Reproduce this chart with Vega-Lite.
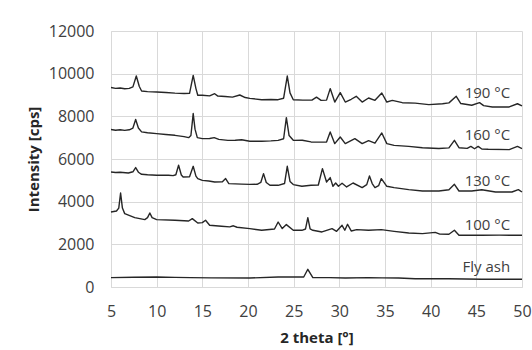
{
  "$schema": "https://vega.github.io/schema/vega-lite/v6.json",
  "width": 411,
  "height": 256,
  "autosize": "none",
  "padding": {"left": 111, "top": 31, "right": 10, "bottom": 63},
  "background": "white",
  "config": {
    "view": {"stroke": null},
    "font": "Open Sans",
    "axis": {"gridColor": "#d9d9d9", "gridWidth": 1, "domainColor": "#d9d9d9", "ticks": false, "labelFlush": false, "labelFont": "Open Sans", "labelFontSize": 16, "labelColor": "#404040", "titleFont": "Open Sans", "titleFontSize": 15, "titleFontWeight": "bold", "titleColor": "#262626"}
  },
  "datasets": {
    "lines": [
      {"s": "190", "x": 5.0, "y": 9350}, {"s": "190", "x": 5.5, "y": 9310}, {"s": "190", "x": 6.0, "y": 9330}, {"s": "190", "x": 6.5, "y": 9290}, {"s": "190", "x": 7.0, "y": 9310}, {"s": "190", "x": 7.4, "y": 9380}, {"s": "190", "x": 7.77, "y": 9890}, {"s": "190", "x": 8.1, "y": 9400}, {"s": "190", "x": 8.35, "y": 9190}, {"s": "190", "x": 9.0, "y": 9160}, {"s": "190", "x": 10.0, "y": 9140}, {"s": "190", "x": 11.0, "y": 9120}, {"s": "190", "x": 12.0, "y": 9090}, {"s": "190", "x": 13.0, "y": 9070}, {"s": "190", "x": 13.6, "y": 9080}, {"s": "190", "x": 14.0, "y": 9920}, {"s": "190", "x": 14.3, "y": 9300}, {"s": "190", "x": 14.5, "y": 8990}, {"s": "190", "x": 15.0, "y": 8985}, {"s": "190", "x": 15.8, "y": 8960}, {"s": "190", "x": 16.35, "y": 9060}, {"s": "190", "x": 16.7, "y": 8950}, {"s": "190", "x": 17.5, "y": 8930}, {"s": "190", "x": 18.3, "y": 8900}, {"s": "190", "x": 19.1, "y": 9000}, {"s": "190", "x": 19.7, "y": 8880}, {"s": "190", "x": 20.2, "y": 8840}, {"s": "190", "x": 21.5, "y": 8780}, {"s": "190", "x": 22.5, "y": 8790}, {"s": "190", "x": 23.3, "y": 8780}, {"s": "190", "x": 23.9, "y": 8850}, {"s": "190", "x": 24.3, "y": 9890}, {"s": "190", "x": 24.6, "y": 9100}, {"s": "190", "x": 24.96, "y": 8780}, {"s": "190", "x": 26.0, "y": 8760}, {"s": "190", "x": 27.0, "y": 8760}, {"s": "190", "x": 27.5, "y": 8900}, {"s": "190", "x": 28.0, "y": 8750}, {"s": "190", "x": 28.6, "y": 8760}, {"s": "190", "x": 29.0, "y": 9300}, {"s": "190", "x": 29.5, "y": 8670}, {"s": "190", "x": 30.1, "y": 9110}, {"s": "190", "x": 30.65, "y": 8670}, {"s": "190", "x": 31.3, "y": 8800}, {"s": "190", "x": 31.85, "y": 8940}, {"s": "190", "x": 32.5, "y": 8670}, {"s": "190", "x": 33.2, "y": 8860}, {"s": "190", "x": 33.9, "y": 8750}, {"s": "190", "x": 34.65, "y": 9095}, {"s": "190", "x": 35.2, "y": 8670}, {"s": "190", "x": 35.8, "y": 8750}, {"s": "190", "x": 36.9, "y": 8640}, {"s": "190", "x": 38.3, "y": 8620}, {"s": "190", "x": 39.8, "y": 8550}, {"s": "190", "x": 41.3, "y": 8590}, {"s": "190", "x": 42.0, "y": 8630}, {"s": "190", "x": 42.8, "y": 8940}, {"s": "190", "x": 43.3, "y": 8600}, {"s": "190", "x": 44.5, "y": 8520}, {"s": "190", "x": 45.35, "y": 8640}, {"s": "190", "x": 45.8, "y": 8500}, {"s": "190", "x": 46.75, "y": 8440}, {"s": "190", "x": 48.6, "y": 8440}, {"s": "190", "x": 49.5, "y": 8590}, {"s": "190", "x": 50.0, "y": 8490},

      {"s": "160", "x": 5.0, "y": 7380}, {"s": "160", "x": 5.5, "y": 7350}, {"s": "160", "x": 6.0, "y": 7370}, {"s": "160", "x": 6.5, "y": 7340}, {"s": "160", "x": 7.0, "y": 7370}, {"s": "160", "x": 7.4, "y": 7450}, {"s": "160", "x": 7.7, "y": 7850}, {"s": "160", "x": 8.0, "y": 7450}, {"s": "160", "x": 8.35, "y": 7270}, {"s": "160", "x": 9.0, "y": 7230}, {"s": "160", "x": 10.0, "y": 7190}, {"s": "160", "x": 11.0, "y": 7150}, {"s": "160", "x": 12.0, "y": 7110}, {"s": "160", "x": 13.0, "y": 7050}, {"s": "160", "x": 13.5, "y": 7000}, {"s": "160", "x": 13.75, "y": 7100}, {"s": "160", "x": 14.0, "y": 8130}, {"s": "160", "x": 14.2, "y": 7400}, {"s": "160", "x": 14.45, "y": 7000}, {"s": "160", "x": 15.0, "y": 6955}, {"s": "160", "x": 15.8, "y": 6960}, {"s": "160", "x": 16.3, "y": 7000}, {"s": "160", "x": 16.8, "y": 6920}, {"s": "160", "x": 17.8, "y": 6875}, {"s": "160", "x": 18.6, "y": 6880}, {"s": "160", "x": 19.3, "y": 6900}, {"s": "160", "x": 20.2, "y": 6830}, {"s": "160", "x": 21.5, "y": 6830}, {"s": "160", "x": 22.5, "y": 6850}, {"s": "160", "x": 23.3, "y": 6875}, {"s": "160", "x": 23.9, "y": 6950}, {"s": "160", "x": 24.2, "y": 7940}, {"s": "160", "x": 24.5, "y": 7100}, {"s": "160", "x": 24.96, "y": 6875}, {"s": "160", "x": 25.95, "y": 6880}, {"s": "160", "x": 26.9, "y": 6800}, {"s": "160", "x": 27.8, "y": 6790}, {"s": "160", "x": 28.6, "y": 6800}, {"s": "160", "x": 29.0, "y": 7266}, {"s": "160", "x": 29.5, "y": 6720}, {"s": "160", "x": 30.1, "y": 7030}, {"s": "160", "x": 30.65, "y": 6720}, {"s": "160", "x": 31.7, "y": 6955}, {"s": "160", "x": 32.5, "y": 6720}, {"s": "160", "x": 33.2, "y": 6860}, {"s": "160", "x": 33.9, "y": 6740}, {"s": "160", "x": 34.65, "y": 7220}, {"s": "160", "x": 35.2, "y": 6720}, {"s": "160", "x": 36.0, "y": 6640}, {"s": "160", "x": 37.6, "y": 6590}, {"s": "160", "x": 39.1, "y": 6530}, {"s": "160", "x": 40.9, "y": 6490}, {"s": "160", "x": 42.0, "y": 6520}, {"s": "160", "x": 42.6, "y": 6875}, {"s": "160", "x": 43.1, "y": 6530}, {"s": "160", "x": 44.0, "y": 6500}, {"s": "160", "x": 44.4, "y": 6590}, {"s": "160", "x": 44.8, "y": 6480}, {"s": "160", "x": 45.2, "y": 6590}, {"s": "160", "x": 45.6, "y": 6470}, {"s": "160", "x": 46.3, "y": 6455}, {"s": "160", "x": 48.6, "y": 6440}, {"s": "160", "x": 49.5, "y": 6590}, {"s": "160", "x": 50.0, "y": 6490},

      {"s": "130", "x": 5.0, "y": 5390}, {"s": "130", "x": 5.5, "y": 5370}, {"s": "130", "x": 6.0, "y": 5380}, {"s": "130", "x": 6.9, "y": 5344}, {"s": "130", "x": 7.4, "y": 5400}, {"s": "130", "x": 7.7, "y": 5600}, {"s": "130", "x": 8.0, "y": 5380}, {"s": "130", "x": 8.35, "y": 5283}, {"s": "130", "x": 9.0, "y": 5260}, {"s": "130", "x": 10.0, "y": 5236}, {"s": "130", "x": 11.3, "y": 5236}, {"s": "130", "x": 11.8, "y": 5220}, {"s": "130", "x": 12.1, "y": 5260}, {"s": "130", "x": 12.4, "y": 5705}, {"s": "130", "x": 12.7, "y": 5250}, {"s": "130", "x": 12.9, "y": 5156}, {"s": "130", "x": 13.6, "y": 5170}, {"s": "130", "x": 14.0, "y": 5658}, {"s": "130", "x": 14.3, "y": 5200}, {"s": "130", "x": 14.5, "y": 5081}, {"s": "130", "x": 15.0, "y": 5000}, {"s": "130", "x": 15.7, "y": 4970}, {"s": "130", "x": 16.35, "y": 4922}, {"s": "130", "x": 17.2, "y": 4930}, {"s": "130", "x": 17.55, "y": 5081}, {"s": "130", "x": 17.9, "y": 4847}, {"s": "130", "x": 19.3, "y": 4820}, {"s": "130", "x": 20.2, "y": 4810}, {"s": "130", "x": 21.0, "y": 4814}, {"s": "130", "x": 21.4, "y": 4900}, {"s": "130", "x": 21.7, "y": 5315}, {"s": "130", "x": 22.0, "y": 4900}, {"s": "130", "x": 22.4, "y": 4767}, {"s": "130", "x": 23.3, "y": 4767}, {"s": "130", "x": 24.0, "y": 4850}, {"s": "130", "x": 24.3, "y": 5658}, {"s": "130", "x": 24.6, "y": 4950}, {"s": "130", "x": 24.96, "y": 4800}, {"s": "130", "x": 25.9, "y": 4720}, {"s": "130", "x": 26.9, "y": 4767}, {"s": "130", "x": 27.7, "y": 4780}, {"s": "130", "x": 28.15, "y": 5550}, {"s": "130", "x": 28.6, "y": 4922}, {"s": "130", "x": 29.0, "y": 5128}, {"s": "130", "x": 29.3, "y": 4720}, {"s": "130", "x": 29.6, "y": 4875}, {"s": "130", "x": 29.9, "y": 4720}, {"s": "130", "x": 30.3, "y": 4860}, {"s": "130", "x": 30.8, "y": 4690}, {"s": "130", "x": 31.5, "y": 4875}, {"s": "130", "x": 32.5, "y": 4660}, {"s": "130", "x": 33.0, "y": 4800}, {"s": "130", "x": 33.3, "y": 5203}, {"s": "130", "x": 33.6, "y": 4850}, {"s": "130", "x": 33.9, "y": 4660}, {"s": "130", "x": 34.3, "y": 4750}, {"s": "130", "x": 34.6, "y": 5081}, {"s": "130", "x": 35.2, "y": 4720}, {"s": "130", "x": 36.0, "y": 4660}, {"s": "130", "x": 37.6, "y": 4565}, {"s": "130", "x": 39.1, "y": 4500}, {"s": "130", "x": 40.9, "y": 4500}, {"s": "130", "x": 42.0, "y": 4560}, {"s": "130", "x": 42.6, "y": 4814}, {"s": "130", "x": 43.1, "y": 4500}, {"s": "130", "x": 44.5, "y": 4500}, {"s": "130", "x": 45.6, "y": 4560}, {"s": "130", "x": 47.1, "y": 4453}, {"s": "130", "x": 48.9, "y": 4453}, {"s": "130", "x": 49.6, "y": 4565}, {"s": "130", "x": 50.0, "y": 4453},

      {"s": "100", "x": 5.0, "y": 3516}, {"s": "100", "x": 5.6, "y": 3563}, {"s": "100", "x": 5.85, "y": 3700}, {"s": "100", "x": 6.05, "y": 4406}, {"s": "100", "x": 6.25, "y": 3700}, {"s": "100", "x": 6.5, "y": 3440}, {"s": "100", "x": 7.6, "y": 3253}, {"s": "100", "x": 8.7, "y": 3160}, {"s": "100", "x": 9.0, "y": 3250}, {"s": "100", "x": 9.25, "y": 3469}, {"s": "100", "x": 9.5, "y": 3250}, {"s": "100", "x": 10.0, "y": 3160}, {"s": "100", "x": 12.0, "y": 3127}, {"s": "100", "x": 13.5, "y": 3094}, {"s": "100", "x": 13.9, "y": 3206}, {"s": "100", "x": 14.5, "y": 3000}, {"s": "100", "x": 15.0, "y": 3020}, {"s": "100", "x": 15.35, "y": 3127}, {"s": "100", "x": 15.8, "y": 2892}, {"s": "100", "x": 17.1, "y": 2845}, {"s": "100", "x": 18.0, "y": 2820}, {"s": "100", "x": 18.4, "y": 2870}, {"s": "100", "x": 18.8, "y": 2800}, {"s": "100", "x": 20.2, "y": 2737}, {"s": "100", "x": 21.5, "y": 2658}, {"s": "100", "x": 22.9, "y": 2720}, {"s": "100", "x": 23.3, "y": 3047}, {"s": "100", "x": 23.75, "y": 2737}, {"s": "100", "x": 24.2, "y": 2925}, {"s": "100", "x": 24.96, "y": 2658}, {"s": "100", "x": 25.9, "y": 2658}, {"s": "100", "x": 26.3, "y": 2720}, {"s": "100", "x": 26.55, "y": 3253}, {"s": "100", "x": 26.8, "y": 2720}, {"s": "100", "x": 27.1, "y": 2658}, {"s": "100", "x": 28.1, "y": 2580}, {"s": "100", "x": 29.2, "y": 2737}, {"s": "100", "x": 29.7, "y": 2610}, {"s": "100", "x": 30.3, "y": 2892}, {"s": "100", "x": 30.6, "y": 2660}, {"s": "100", "x": 30.9, "y": 2940}, {"s": "100", "x": 31.3, "y": 2627}, {"s": "100", "x": 31.9, "y": 2690}, {"s": "100", "x": 33.2, "y": 2658}, {"s": "100", "x": 34.6, "y": 2690}, {"s": "100", "x": 36.0, "y": 2610}, {"s": "100", "x": 37.6, "y": 2530}, {"s": "100", "x": 39.1, "y": 2500}, {"s": "100", "x": 40.5, "y": 2560}, {"s": "100", "x": 41.0, "y": 2480}, {"s": "100", "x": 42.0, "y": 2470}, {"s": "100", "x": 42.6, "y": 2658}, {"s": "100", "x": 43.1, "y": 2423}, {"s": "100", "x": 45.6, "y": 2423}, {"s": "100", "x": 47.5, "y": 2430}, {"s": "100", "x": 50.0, "y": 2423},

      {"s": "fly", "x": 5.0, "y": 440}, {"s": "fly", "x": 7.5, "y": 455}, {"s": "fly", "x": 10.0, "y": 470}, {"s": "fly", "x": 12.0, "y": 450}, {"s": "fly", "x": 13.7, "y": 440}, {"s": "fly", "x": 16.0, "y": 430}, {"s": "fly", "x": 20.2, "y": 420}, {"s": "fly", "x": 23.3, "y": 470}, {"s": "fly", "x": 26.1, "y": 470}, {"s": "fly", "x": 26.55, "y": 830}, {"s": "fly", "x": 27.1, "y": 440}, {"s": "fly", "x": 28.9, "y": 440}, {"s": "fly", "x": 30.65, "y": 420}, {"s": "fly", "x": 33.2, "y": 440}, {"s": "fly", "x": 34.7, "y": 430}, {"s": "fly", "x": 36.5, "y": 420}, {"s": "fly", "x": 38.3, "y": 390}, {"s": "fly", "x": 42.0, "y": 390}, {"s": "fly", "x": 45.6, "y": 360}, {"s": "fly", "x": 50.0, "y": 360}
    ],
    "labels": [
      {"t": "190 °C", "x": 48.7, "y": 9094},
      {"t": "160 °C", "x": 48.7, "y": 7110},
      {"t": "130 °C", "x": 48.7, "y": 4970},
      {"t": "100 °C", "x": 48.7, "y": 2925},
      {"t": "Fly ash", "x": 48.7, "y": 940}
    ]
  },
  "layer": [
    {
      "data": {"name": "lines"},
      "mark": {"type": "line", "color": "#262626", "strokeWidth": 1.4, "strokeJoin": "round"},
      "encoding": {
        "x": {"field": "x", "type": "quantitative", "scale": {"domain": [5, 50], "nice": false, "zero": false}, "axis": {"values": [5, 10, 15, 20, 25, 30, 35, 40, 45, 50], "title": "2 theta [°]", "labelPadding": 16, "titlePadding": 11}},
        "y": {"field": "y", "type": "quantitative", "scale": {"domain": [0, 12000]}, "axis": {"values": [0, 2000, 4000, 6000, 8000, 10000, 12000], "format": "d", "title": "Intensity [cps]", "labelPadding": 17, "titlePadding": 7}},
        "detail": {"field": "s"},
        "order": {"field": "x", "type": "quantitative"}
      }
    },
    {
      "data": {"name": "labels"},
      "mark": {"type": "text", "align": "right", "baseline": "middle", "fontSize": 15, "font": "Open Sans", "color": "#404040"},
      "encoding": {
        "x": {"field": "x", "type": "quantitative"},
        "y": {"field": "y", "type": "quantitative"},
        "text": {"field": "t"}
      }
    }
  ]
}
